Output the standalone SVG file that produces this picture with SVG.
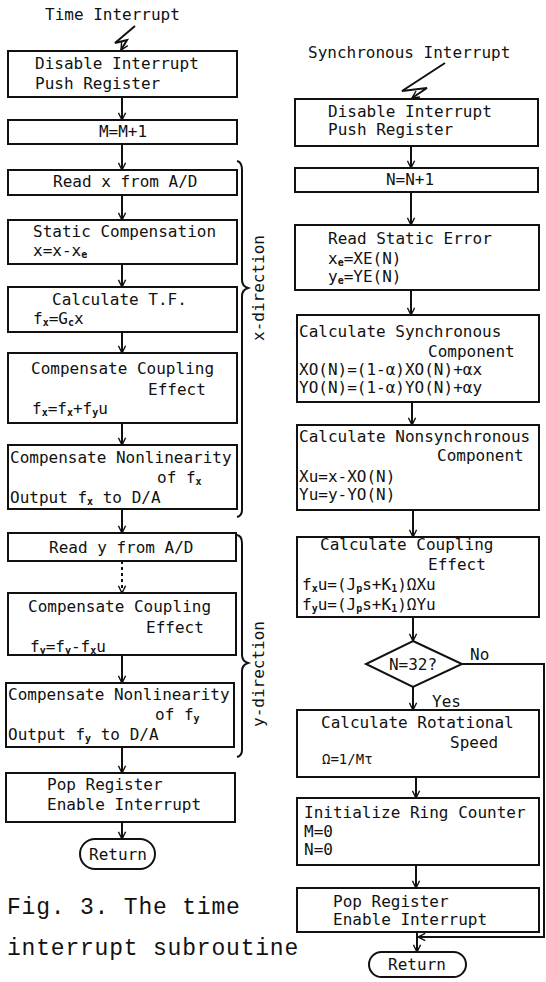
<svg xmlns="http://www.w3.org/2000/svg" width="546" height="982" viewBox="0 0 546 982">
<defs>
<style>
text{font-family:"DejaVu Sans Mono","Liberation Mono",monospace;font-size:16px;fill:#111}
.cap{font-family:"Liberation Mono","Courier New",monospace;font-size:23px;letter-spacing:0.8px}
.b{fill:#fff;stroke:#111;stroke-width:2}
.l{fill:none;stroke:#111;stroke-width:2}
.s{font-size:10px;font-weight:bold}
.m{text-anchor:middle}
</style>
<marker id="ah" viewBox="0 0 10 10" refX="9" refY="5" markerWidth="9" markerHeight="9" markerUnits="userSpaceOnUse" orient="auto">
<path d="M1,1 L9,5 L1,9" fill="none" stroke="#111" stroke-width="1.6"/>
</marker>
</defs>
<rect width="546" height="982" fill="#fff"/>

<g id="connectors">
<path class="l" d="M135,26 L115,43 L127,40 L121,50" marker-end="url(#ah)"/>
<path class="l" d="M122,97 V120" marker-end="url(#ah)"/>
<path class="l" d="M122,144 V170" marker-end="url(#ah)"/>
<path class="l" d="M122,195 V220" marker-end="url(#ah)"/>
<path class="l" d="M122,264 V287" marker-end="url(#ah)"/>
<path class="l" d="M122,332 V353" marker-end="url(#ah)"/>
<path class="l" d="M122,423 V445" marker-end="url(#ah)"/>
<path class="l" d="M122,509 V533" marker-end="url(#ah)"/>
<path class="l" d="M122,561 V593" stroke-dasharray="3,3" marker-end="url(#ah)"/>
<path class="l" d="M122,655 V683" marker-end="url(#ah)"/>
<path class="l" d="M122,747 V773" marker-end="url(#ah)"/>
<path class="l" d="M122,822 V839" marker-end="url(#ah)"/>

<path class="l" d="M445,63 L402,91 L427,88 L412,98" marker-end="url(#ah)"/>
<path class="l" d="M411,146 V168" marker-end="url(#ah)"/>
<path class="l" d="M411,192 V225" marker-end="url(#ah)"/>
<path class="l" d="M411,290 V315" marker-end="url(#ah)"/>
<path class="l" d="M412,402 V425" marker-end="url(#ah)"/>
<path class="l" d="M413,510 V537" marker-end="url(#ah)"/>
<path class="l" d="M413,617 V641" marker-end="url(#ah)"/>
<path class="l" d="M413,687 V710" marker-end="url(#ah)"/>
<path class="l" d="M416,777 V798" marker-end="url(#ah)"/>
<path class="l" d="M416,865 V888" marker-end="url(#ah)"/>
<path class="l" d="M417,932 V952" marker-end="url(#ah)"/>
<path class="l" d="M462,664 H544 V937 H418" marker-end="url(#ah)"/>

<path class="l" d="M237,161 Q242,162 242,170 V280 Q242,286 248,288 Q242,290 242,296 V510 Q242,516 237,517" stroke-width="1.6"/>
<path class="l" d="M237,535 Q242,536 242,543 V655 Q242,661 248,663 Q242,665 242,671 V750 Q242,756 237,757" stroke-width="1.6"/>
</g>

<text x="45" y="20">Time Interrupt</text>
<text x="308" y="58">Synchronous Interrupt</text>
<text transform="translate(264,288) rotate(-90)" class="m">x-direction</text>
<text transform="translate(264,674) rotate(-90)" class="m">y-direction</text>
<text x="470" y="660">No</text>
<text x="432" y="707">Yes</text>

<g id="L1"><rect class="b" x="8" y="51" width="229" height="46"/>
<text x="35" y="69">Disable Interrupt</text><text x="35" y="89">Push Register</text></g>
<g id="L2"><rect class="b" x="8" y="120" width="229" height="24"/>
<text x="123" y="137" class="m">M=M+1</text></g>
<g id="L3"><rect class="b" x="8" y="170" width="229" height="25"/>
<text x="53" y="187">Read x from A/D</text></g>
<g id="L4"><rect class="b" x="8" y="220" width="229" height="44"/>
<text x="33" y="237">Static Compensation</text>
<text x="33" y="256">x=x-x<tspan class="s" dy="2">e</tspan></text></g>
<g id="L5"><rect class="b" x="8" y="287" width="229" height="45"/>
<text x="52" y="305">Calculate T.F.</text>
<text x="33" y="324">f<tspan class="s" dy="2">x</tspan><tspan dy="-2">=G</tspan><tspan class="s" dy="2">c</tspan><tspan dy="-2">x</tspan></text></g>
<g id="L6"><rect class="b" x="8" y="353" width="229" height="70"/>
<text x="31" y="374">Compensate Coupling</text>
<text x="148" y="395">Effect</text>
<text x="32" y="414">f<tspan class="s" dy="2">x</tspan><tspan dy="-2">=f</tspan><tspan class="s" dy="2">x</tspan><tspan dy="-2">+f</tspan><tspan class="s" dy="2">y</tspan><tspan dy="-2">u</tspan></text></g>
<g id="L7"><rect class="b" x="8" y="445" width="229" height="64"/>
<text x="10" y="463">Compensate Nonlinearity</text>
<text x="157" y="483">of f<tspan class="s" dy="2">x</tspan></text>
<text x="10" y="503">Output f<tspan class="s" dy="2">x</tspan><tspan dy="-2"> to D/A</tspan></text></g>
<g id="L8"><rect class="b" x="8" y="533" width="228" height="28"/>
<text x="49" y="553">Read y from A/D</text></g>
<g id="L9"><rect class="b" x="8" y="593" width="228" height="62"/>
<text x="28" y="612">Compensate Coupling</text>
<text x="146" y="633">Effect</text>
<text x="30" y="652">f<tspan class="s" dy="2">y</tspan><tspan dy="-2">=f</tspan><tspan class="s" dy="2">y</tspan><tspan dy="-2">-f</tspan><tspan class="s" dy="2">x</tspan><tspan dy="-2">u</tspan></text></g>
<g id="L10"><rect class="b" x="6" y="683" width="228" height="64"/>
<text x="8" y="700">Compensate Nonlinearity</text>
<text x="155" y="720">of f<tspan class="s" dy="2">y</tspan></text>
<text x="8" y="740">Output f<tspan class="s" dy="2">y</tspan><tspan dy="-2"> to D/A</tspan></text></g>
<g id="L11"><rect class="b" x="6" y="773" width="229" height="49"/>
<text x="47" y="790">Pop Register</text><text x="47" y="810">Enable Interrupt</text></g>
<g id="L12"><rect class="b" x="80" y="839" width="75" height="30" rx="15"/>
<text x="118" y="860" class="m">Return</text></g>

<g id="R1"><rect class="b" x="295" y="99" width="243" height="47"/>
<text x="328" y="117">Disable Interrupt</text><text x="328" y="135">Push Register</text></g>
<g id="R2"><rect class="b" x="295" y="168" width="243" height="24"/>
<text x="410" y="185" class="m">N=N+1</text></g>
<g id="R3"><rect class="b" x="295" y="225" width="244" height="65"/>
<text x="328" y="244">Read Static Error</text>
<text x="328" y="264">x<tspan class="s" dy="2">e</tspan><tspan dy="-2">=XE(N)</tspan></text>
<text x="328" y="282">y<tspan class="s" dy="2">e</tspan><tspan dy="-2">=YE(N)</tspan></text></g>
<g id="R4"><rect class="b" x="297" y="315" width="242" height="87"/>
<text x="299" y="337">Calculate Synchronous</text>
<text x="428" y="357">Component</text>
<text x="299" y="375">XO(N)=(1-α)XO(N)+αx</text>
<text x="299" y="393">YO(N)=(1-α)YO(N)+αy</text></g>
<g id="R5"><rect class="b" x="297" y="425" width="242" height="85"/>
<text x="299" y="442">Calculate Nonsynchronous</text>
<text x="437" y="461">Component</text>
<text x="299" y="482">Xu=x-XO(N)</text>
<text x="299" y="500">Yu=y-YO(N)</text></g>
<g id="R6"><rect class="b" x="297" y="537" width="242" height="80"/>
<text x="320" y="550">Calculate Coupling</text>
<text x="428" y="570">Effect</text>
<text x="302" y="590">f<tspan class="s" dy="2">x</tspan><tspan dy="-2">u=(J</tspan><tspan class="s" dy="2">p</tspan><tspan dy="-2">s+K</tspan><tspan class="s" dy="2">1</tspan><tspan dy="-2">)ΩXu</tspan></text>
<text x="302" y="610">f<tspan class="s" dy="2">y</tspan><tspan dy="-2">u=(J</tspan><tspan class="s" dy="2">p</tspan><tspan dy="-2">s+K</tspan><tspan class="s" dy="2">1</tspan><tspan dy="-2">)ΩYu</tspan></text></g>
<g id="D1"><path class="b" d="M413,641 L462,664 L413,687 L366,664 Z"/>
<text x="413" y="670" class="m">N=32?</text></g>
<g id="R7"><rect class="b" x="297" y="710" width="242" height="67"/>
<text x="321" y="728">Calculate Rotational</text>
<text x="450" y="748">Speed</text>
<text x="322" y="764" style="font-size:14px">Ω=1/Mτ</text></g>
<g id="R8"><rect class="b" x="297" y="798" width="242" height="67"/>
<text x="304" y="818">Initialize Ring Counter</text>
<text x="304" y="837">M=0</text>
<text x="304" y="855">N=0</text></g>
<g id="R9"><rect class="b" x="297" y="888" width="242" height="44"/>
<text x="333" y="907">Pop Register</text>
<text x="333" y="925">Enable Interrupt</text></g>
<g id="R10"><rect class="b" x="369" y="952" width="97" height="25" rx="12.5"/>
<text x="417" y="970" class="m">Return</text></g>

<text class="cap" x="7" y="914">Fig. 3. The time</text>
<text class="cap" x="7" y="955">interrupt subroutine</text>
</svg>
